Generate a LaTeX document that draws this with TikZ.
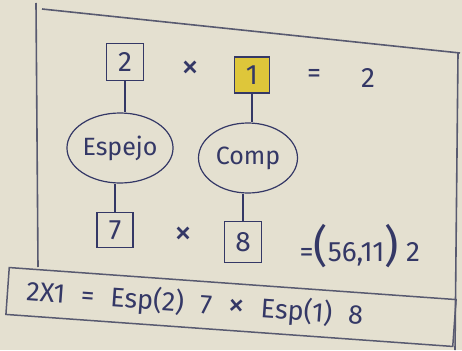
\documentclass[tikz,border=0pt]{standalone}
\usepackage{fontspec}
\setmainfont{Fira Sans}
\usetikzlibrary{shapes.geometric}
\definecolor{paper}{RGB}{228,224,208}
\definecolor{ink}{RGB}{52,56,102}
\definecolor{frameink}{RGB}{88,90,112}
\definecolor{marker}{RGB}{222,198,58}
\newcommand\widegaps{\spaceskip=16pt\relax}
\newcommand\bigtimes{{\fontsize{34}{34}\selectfont×}}
\tikzset{
    digit box/.style={
        draw=ink,
        line width=1.4pt,
        minimum width=37pt,
        minimum height=37pt,
        inner sep=0pt,
        text=ink,
        font=\fontsize{28}{28}\selectfont
    },
    op ellipse/.style={
        ellipse,
        draw=ink,
        line width=1.2pt,
        inner sep=0pt,
        minimum height=70pt,
        text=ink,
        font=\fontsize{25}{25}\selectfont
    },
    link/.style={ink, line width=2.4pt},
    frame line/.style={frameink, line width=1.6pt},
    plain text/.style={text=ink, font=\fontsize{28}{28}\selectfont},
    times sign/.style={text=ink, font=\fontsize{36}{36}\selectfont},
    sum box/.style={
        draw=frameink,
        line width=1.5pt,
        rotate=-4.1,
        minimum height=47pt,
        text width=410pt,
        inner xsep=19pt,
        align=left,
        text=ink,
        font=\fontsize{27}{27}\selectfont
    }
}
\begin{document}
\begin{tikzpicture}[x=1pt,y=-1pt]
    \fill[paper] (0,0) rectangle (462,350);
    \useasboundingbox (0,0) rectangle (462,350);

    % hand drawn frame
    \draw[frame line] (36,3) -- (38,267);
    \draw[frame line] (42,9) -- (460,53);
    \draw[frame line] (458,53) -- (455,350);

    % first row
    \node[digit box] (two) at (125,62) {2};
    \node[times sign] (timesA) at (190,70) {×};
    \node[digit box, fill=marker, minimum width=35pt, minimum height=36pt] (one) at (252,75) {1};
    \node[plain text] (eqA) at (314,76) {=};
    \node[plain text] (resA) at (368,78) {2};

    % operations
    \node[op ellipse, minimum width=105pt] (espejo) at (120,148) {Espejo};
    \node[op ellipse, minimum width=99pt] (comp) at (248,158) {Comp};

    % second row
    \node[digit box, minimum width=36pt, minimum height=35pt] (seven) at (115,230) {7};
    \node[times sign] (timesB) at (183,236) {×};
    \node[digit box, minimum height=41pt] (eight) at (243,242) {8};
    \node[plain text, anchor=west] (resB) at (296,246)
        {={\fontsize{44}{44}\selectfont(}56,11{\fontsize{44}{44}\selectfont)} 2};

    \draw[link] (two) -- (two |- espejo.north);
    \draw[link] (one) -- (one |- comp.north);
    \draw[link] (seven |- espejo.south) -- (seven);
    \draw[link] (eight |- comp.south) -- (eight);

    % summary line
    \node[sum box] (sum) at (231,307) {\widegaps 2X1 = Esp(2) 7 \bigtimes{} Esp(1) 8};
\end{tikzpicture}
\end{document}
